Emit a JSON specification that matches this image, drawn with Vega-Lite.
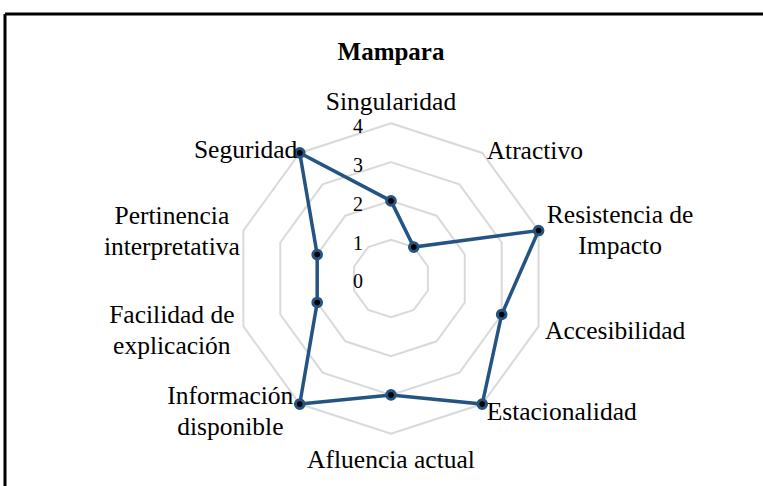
{
  "$schema": "https://vega.github.io/schema/vega-lite/v6.json",
  "width": 758,
  "height": 472,
  "padding": {"left": 5, "top": 14, "right": 0, "bottom": 0},
  "autosize": "none",
  "background": "white",
  "view": {"stroke": null},
  "config": {"font": "Liberation Serif", "text": {"font": "Liberation Serif"}},
  "datasets": {
    "cats": [
      {"i": 0, "name": "Singularidad", "value": 2},
      {"i": 1, "name": "Atractivo", "value": 1},
      {"i": 2, "name": "Resistencia de\nImpacto", "value": 4},
      {"i": 3, "name": "Accesibilidad", "value": 3},
      {"i": 4, "name": "Estacionalidad", "value": 4},
      {"i": 5, "name": "Afluencia actual", "value": 3},
      {"i": 6, "name": "Información\ndisponible", "value": 4},
      {"i": 7, "name": "Facilidad de\nexplicación", "value": 2},
      {"i": 8, "name": "Pertinencia\ninterpretativa", "value": 2},
      {"i": 9, "name": "Seguridad", "value": 4}
    ],
    "grid": [
      {"level": 1, "i": [0, 1, 2, 3, 4, 5, 6, 7, 8, 9]},
      {"level": 2, "i": [0, 1, 2, 3, 4, 5, 6, 7, 8, 9]},
      {"level": 3, "i": [0, 1, 2, 3, 4, 5, 6, 7, 8, 9]},
      {"level": 4, "i": [0, 1, 2, 3, 4, 5, 6, 7, 8, 9]}
    ],
    "ticks": [{"v": 0}, {"v": 1}, {"v": 2}, {"v": 3}, {"v": 4}],
    "one": [{"title": "Mampara"}]
  },
  "encoding": {},
  "layer": [
    {
      "data": {"name": "grid"},
      "transform": [
        {"flatten": ["i"]},
        {"calculate": "datum.level * sin(datum.i * PI / 5)", "as": "x"},
        {"calculate": "datum.level * cos(datum.i * PI / 5)", "as": "y"}
      ],
      "mark": {"type": "line", "interpolate": "linear-closed", "stroke": "#d9d9d9", "strokeWidth": 2},
      "encoding": {
        "x": {"field": "x", "type": "quantitative", "scale": {"domain": [-9.948, 9.588], "zero": false, "nice": false}, "axis": null},
        "y": {"field": "y", "type": "quantitative", "scale": {"domain": [-5.348, 6.817], "zero": false, "nice": false}, "axis": null},
        "detail": {"field": "level"},
        "order": {"field": "i"}
      }
    },
    {
      "data": {"name": "ticks"},
      "mark": {"type": "text", "font": "Liberation Serif", "fontSize": 20, "dx": -33, "dy": 4, "baseline": "middle", "align": "center", "color": "#000000"},
      "encoding": {
        "x": {"datum": 0, "type": "quantitative"},
        "y": {"field": "v", "type": "quantitative"},
        "text": {"field": "v"}
      }
    },
    {
      "data": {"name": "cats"},
      "transform": [
        {"calculate": "datum.value * sin(datum.i * PI / 5)", "as": "x"},
        {"calculate": "datum.value * cos(datum.i * PI / 5)", "as": "y"}
      ],
      "mark": {"type": "line", "interpolate": "linear-closed", "stroke": "#245482", "strokeWidth": 3.5},
      "encoding": {
        "x": {"field": "x", "type": "quantitative"},
        "y": {"field": "y", "type": "quantitative"},
        "order": {"field": "i"}
      }
    },
    {
      "data": {"name": "cats"},
      "transform": [
        {"calculate": "datum.value * sin(datum.i * PI / 5)", "as": "x"},
        {"calculate": "datum.value * cos(datum.i * PI / 5)", "as": "y"}
      ],
      "mark": {"type": "point", "shape": "circle", "filled": true, "fill": "#000000", "stroke": "#245482", "strokeWidth": 3, "size": 75, "opacity": 1},
      "encoding": {
        "x": {"field": "x", "type": "quantitative"},
        "y": {"field": "y", "type": "quantitative"}
      }
    },
    {
      "data": {"name": "cats"},
      "transform": [
        {"calculate": "4.15 * sin(datum.i * PI / 5)", "as": "lx"},
        {"calculate": "4.15 * cos(datum.i * PI / 5)", "as": "ly"},
        {"filter": "datum.i == 0"}
      ],
      "mark": {"type": "text", "font": "Liberation Serif", "fontSize": 25.5, "align": "center", "baseline": "middle", "dy": -15, "color": "#000000"},
      "encoding": {
        "x": {"field": "lx", "type": "quantitative"},
        "y": {"field": "ly", "type": "quantitative"},
        "text": {"field": "name"}
      }
    },
    {
      "data": {"name": "cats"},
      "transform": [
        {"calculate": "4.15 * sin(datum.i * PI / 5)", "as": "lx"},
        {"calculate": "4.15 * cos(datum.i * PI / 5)", "as": "ly"},
        {"filter": "datum.i == 5"}
      ],
      "mark": {"type": "text", "font": "Liberation Serif", "fontSize": 25.5, "align": "center", "baseline": "middle", "dy": 20, "color": "#000000"},
      "encoding": {
        "x": {"field": "lx", "type": "quantitative"},
        "y": {"field": "ly", "type": "quantitative"},
        "text": {"field": "name"}
      }
    },
    {
      "data": {"name": "cats"},
      "transform": [
        {"calculate": "4.15 * sin(datum.i * PI / 5)", "as": "lx"},
        {"calculate": "4.15 * cos(datum.i * PI / 5)", "as": "ly"},
        {"filter": "datum.i == 1 || datum.i == 3 || datum.i == 4"}
      ],
      "mark": {"type": "text", "font": "Liberation Serif", "fontSize": 25.5, "align": "left", "baseline": "middle", "dx": 1, "dy": 3, "color": "#000000"},
      "encoding": {
        "x": {"field": "lx", "type": "quantitative"},
        "y": {"field": "ly", "type": "quantitative"},
        "text": {"field": "name"}
      }
    },
    {
      "data": {"name": "cats"},
      "transform": [
        {"calculate": "4.15 * sin(datum.i * PI / 5)", "as": "lx"},
        {"calculate": "4.15 * cos(datum.i * PI / 5)", "as": "ly"},
        {"filter": "datum.i == 9"}
      ],
      "mark": {"type": "text", "font": "Liberation Serif", "fontSize": 25.5, "align": "right", "baseline": "middle", "dx": 1, "dy": 2, "color": "#000000"},
      "encoding": {
        "x": {"field": "lx", "type": "quantitative"},
        "y": {"field": "ly", "type": "quantitative"},
        "text": {"field": "name"}
      }
    },
    {
      "data": {"name": "cats"},
      "transform": [
        {"calculate": "4.15 * sin(datum.i * PI / 5)", "as": "lx"},
        {"calculate": "4.15 * cos(datum.i * PI / 5)", "as": "ly"},
        {"filter": "datum.i == 2"}
      ],
      "mark": {"type": "text", "font": "Liberation Serif", "fontSize": 25.5, "align": "center", "baseline": "middle", "lineBreak": "\n", "lineHeight": 31, "dx": 76, "dy": -14, "color": "#000000"},
      "encoding": {
        "x": {"field": "lx", "type": "quantitative"},
        "y": {"field": "ly", "type": "quantitative"},
        "text": {"field": "name"}
      }
    },
    {
      "data": {"name": "cats"},
      "transform": [
        {"calculate": "4.15 * sin(datum.i * PI / 5)", "as": "lx"},
        {"calculate": "4.15 * cos(datum.i * PI / 5)", "as": "ly"},
        {"filter": "datum.i == 6 || datum.i == 7 || datum.i == 8"}
      ],
      "mark": {"type": "text", "font": "Liberation Serif", "fontSize": 25.5, "align": "center", "baseline": "middle", "lineBreak": "\n", "lineHeight": 31, "dx": -66, "dy": -13, "color": "#000000"},
      "encoding": {
        "x": {"field": "lx", "type": "quantitative"},
        "y": {"field": "ly", "type": "quantitative"},
        "text": {"field": "name"}
      }
    },
    {
      "data": {"name": "one"},
      "mark": {"type": "text", "font": "Liberation Serif", "fontSize": 25, "fontWeight": "bold", "align": "center", "baseline": "middle", "color": "#000000"},
      "encoding": {
        "x": {"datum": 0, "type": "quantitative"},
        "y": {"datum": 5.83, "type": "quantitative"},
        "text": {"field": "title"}
      }
    },
    {
      "data": {"name": "one"},
      "mark": {"type": "rule", "color": "#000000", "strokeWidth": 3},
      "encoding": {
        "x": {"datum": -9.948, "type": "quantitative"}
      }
    },
    {
      "data": {"name": "one"},
      "mark": {"type": "rule", "color": "#000000", "strokeWidth": 3},
      "encoding": {
        "y": {"datum": 6.817, "type": "quantitative"}
      }
    }
  ]
}
